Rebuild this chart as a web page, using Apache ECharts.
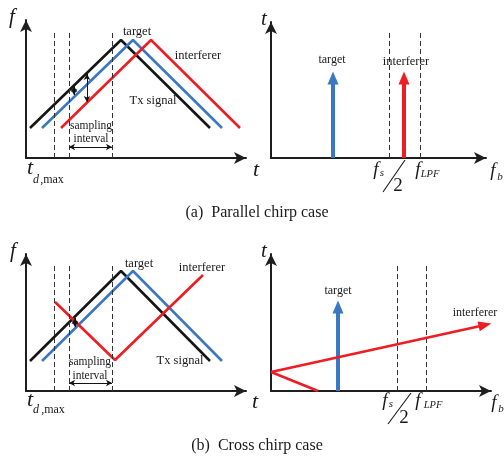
<!DOCTYPE html>
<html>
<head>
<meta charset="utf-8">
<script src="https://cdn.jsdelivr.net/npm/echarts@6/dist/echarts.min.js"></script>
<style>html,body{margin:0;padding:0;background:#fff;}#c{width:504px;height:457px;}</style>
</head>
<body>
<div id="c"></div>
<script>
// ---- Data (abstract time / frequency units) ----
// (a) parallel chirp: f vs t
const aTxChirp = [[4, 30], [95, 118], [184, 30]];
const aTargetChirp = [[16, 30], [107, 118], [196, 30]];
const aInterfChirp = [[35, 30], [125, 118], [214, 30]];
const aSampleMarks = [28, 43, 86];
const aSampleTop = 125;
const aSampling = [43, 86];
const aSamplingLevel = 11;
const aBeatGaps = [[48, 63, 72], [61, 56, 84]];
// (a) beat spectrum
const aTargetBeat = 62;
const aInterfBeat = 133;
const aBeatHeight = 80;
const aFilterMarks = [118, 149];
const aFilterTop = 125;

// (b) cross chirp: f vs t
const bTxChirp = [[4, 30], [95, 120], [184, 30]];
const bTargetChirp = [[16, 30], [107, 120], [196, 30]];
const bInterfChirp = [[29, 89], [89, 31], [177, 116]];
const bSampleMarks = [28, 43, 86];
const bSampleTop = 126;
const bSampling = [43, 86];
const bSamplingLevel = 8;
const bBeatGaps = [[49, 64, 73]];
// (b) beat spectrum
const bTargetBeat = 67;
const bBeatHeight = 84;
const bInterfSweepLow = [[47, 0], [0, 19]];
const bInterfSweepHigh = [[0, 19], [214, 66]];
const bFilterMarks = [126, 155];
const bFilterTop = 127;

// ---- styles ----
const BLACK = '#161616', BLUE = '#3b78c4', RED = '#ee1d23', AX = '#1e1e1e';
const SERIF = '"Liberation Serif", "DejaVu Serif", serif';

const grids = [
  {left: 26, top: 20, width: 220, height: 138},
  {left: 271, top: 22, width: 215, height: 136},
  {left: 26, top: 254, width: 220, height: 137},
  {left: 271, top: 254, width: 220, height: 137}
];
function axis(i, max, isX) {
  return {
    type: 'value', gridIndex: i, min: 0, max: max,
    axisLine: {show: true, onZero: false, symbol: ['none', 'arrow'], symbolSize: [9, 12],
      lineStyle: {color: AX, width: 2}},
    axisTick: {show: false}, axisLabel: {show: false}, splitLine: {show: false}
  };
}
const xAxes = grids.map((g, i) => axis(i, g.width, true));
const yAxes = grids.map((g, i) => axis(i, g.height, false));

function dashed(xs, top) {
  return {
    silent: true, symbol: 'none', label: {show: false},
    lineStyle: {color: '#333', width: 1, type: [5, 3]},
    emphasis: {disabled: true},
    data: xs.map(x => [{coord: [x, 0]}, {coord: [x, top]}])
  };
}
function dblArrows(sampling, level, gaps) {
  const d = [[{coord: [sampling[0], level]}, {coord: [sampling[1], level]}]];
  gaps.forEach(g => d.push([{coord: [g[0], g[1]]}, {coord: [g[0], g[2]]}]));
  return {
    silent: true, symbol: ['arrow', 'arrow'], symbolSize: [5, 6], label: {show: false},
    lineStyle: {color: '#111', width: 1, type: 'solid'},
    emphasis: {disabled: true},
    data: d
  };
}
function chirp(i, data, color, extra) {
  return Object.assign({
    type: 'line', xAxisIndex: i, yAxisIndex: i, data: data, symbol: 'none',
    lineStyle: {color: color, width: 2.6}, itemStyle: {color: color}, silent: true
  }, extra || {});
}
function beatArrow(i, x, h, color, extra) {
  return Object.assign({
    type: 'line', xAxisIndex: i, yAxisIndex: i,
    data: [{value: [x, 0], symbol: 'none'}, {value: [x, h], symbol: 'triangle', symbolSize: [11, 13]}],
    showSymbol: true, lineStyle: {color: color, width: 4}, itemStyle: {color: color}, silent: true
  }, extra || {});
}

const series = [
  chirp(0, aTxChirp, BLACK, {markLine: dashed(aSampleMarks, aSampleTop)}),
  chirp(0, aTargetChirp, BLUE, {markLine: dblArrows(aSampling, aSamplingLevel, aBeatGaps)}),
  chirp(0, aInterfChirp, RED),
  beatArrow(1, aTargetBeat, aBeatHeight, BLUE, {markLine: dashed(aFilterMarks, aFilterTop)}),
  beatArrow(1, aInterfBeat, aBeatHeight, RED),
  chirp(2, bTxChirp, BLACK, {markLine: dashed(bSampleMarks, bSampleTop)}),
  chirp(2, bTargetChirp, BLUE, {markLine: dblArrows(bSampling, bSamplingLevel, bBeatGaps)}),
  chirp(2, bInterfChirp, RED),
  beatArrow(3, bTargetBeat, bBeatHeight, BLUE, {markLine: dashed(bFilterMarks, bFilterTop)}),
  chirp(3, bInterfSweepLow, RED, {markLine: {
    silent: true, symbol: ['none', 'triangle'], symbolSize: [10, 13], label: {show: false},
    lineStyle: {color: RED, width: 2.6, type: 'solid'}, emphasis: {disabled: true},
    data: [[{coord: bInterfSweepHigh[0]}, {coord: bInterfSweepHigh[1]}]]
  }})
];

function T(text, x, y, size, italic, align) {
  return {
    type: 'text', x: x, y: y, z: 100,
    style: {
      text: text, fill: '#1a1a1a',
      font: (italic ? 'italic ' : '') + size + 'px ' + SERIF,
      align: align || 'center', verticalAlign: 'middle',
      textAlign: align || 'center', textVerticalAlign: 'middle'
    }
  };
}
function slash(x1, y1, x2, y2) {
  return {type: 'line', z: 100, shape: {x1: x1, y1: y1, x2: x2, y2: y2},
    style: {stroke: '#1a1a1a', lineWidth: 1.1}};
}

const graphic = [
  // (a) left
  T('f', 12, 17, 21, true),
  T('t', 256, 170, 22, true),
  T('t', 30, 168, 22, true),
  T('d', 36, 180, 12, true),
  T(',max', 52, 180, 12, false),
  T('target', 137, 32, 12.5),
  T('interferer', 198, 56, 12.5),
  T('Tx signal', 153, 101, 12.5),
  T('sampling', 91, 126, 11.5),
  T('interval', 91, 139, 11.5),
  // (a) right
  T('t', 264, 19, 21, true),
  T('target', 332, 60, 12),
  T('interferer', 406, 62, 12.5),
  T('f', 376, 170, 19, true),
  T('s', 382, 173, 11, true),
  slash(383, 192, 405, 160),
  T('2', 398, 186, 19),
  T('f', 418, 170, 19, true),
  T('LPF', 430, 174, 10.5, true),
  T('f', 493, 171, 19, true),
  T('b', 500, 177, 11, true),
  T('(a)  Parallel chirp case', 257, 213, 16),
  // (b) left
  T('f', 13, 251, 21, true),
  T('t', 255, 402, 22, true),
  T('t', 30, 400, 22, true),
  T('d', 36, 410, 12, true),
  T(',max', 53, 410, 12, false),
  T('target', 139, 264, 12.5),
  T('interferer', 202, 268, 12.5),
  T('Tx signal', 180, 361, 12.5),
  T('sampling', 90, 362, 11.5),
  T('interval', 90, 376, 11.5),
  // (b) right
  T('t', 264, 251, 21, true),
  T('target', 338, 291, 12),
  T('interferer', 475, 313, 12),
  T('f', 385, 401, 19, true),
  T('s', 391, 404, 11, true),
  slash(388, 424, 411, 393),
  T('2', 404, 418, 19),
  T('f', 418, 401, 19, true),
  T('LPF', 433, 405, 10.5, true),
  T('f', 494, 403, 19, true),
  T('b', 501, 409, 11, true),
  T('(b)  Cross chirp case', 257, 446, 16)
];

const chart = echarts.init(document.getElementById('c'), null, {renderer: 'canvas'});
chart.setOption({
  animation: false,
  backgroundColor: '#fff',
  grid: grids,
  xAxis: xAxes,
  yAxis: yAxes,
  series: series,
  graphic: graphic
});
</script>
</body>
</html>
